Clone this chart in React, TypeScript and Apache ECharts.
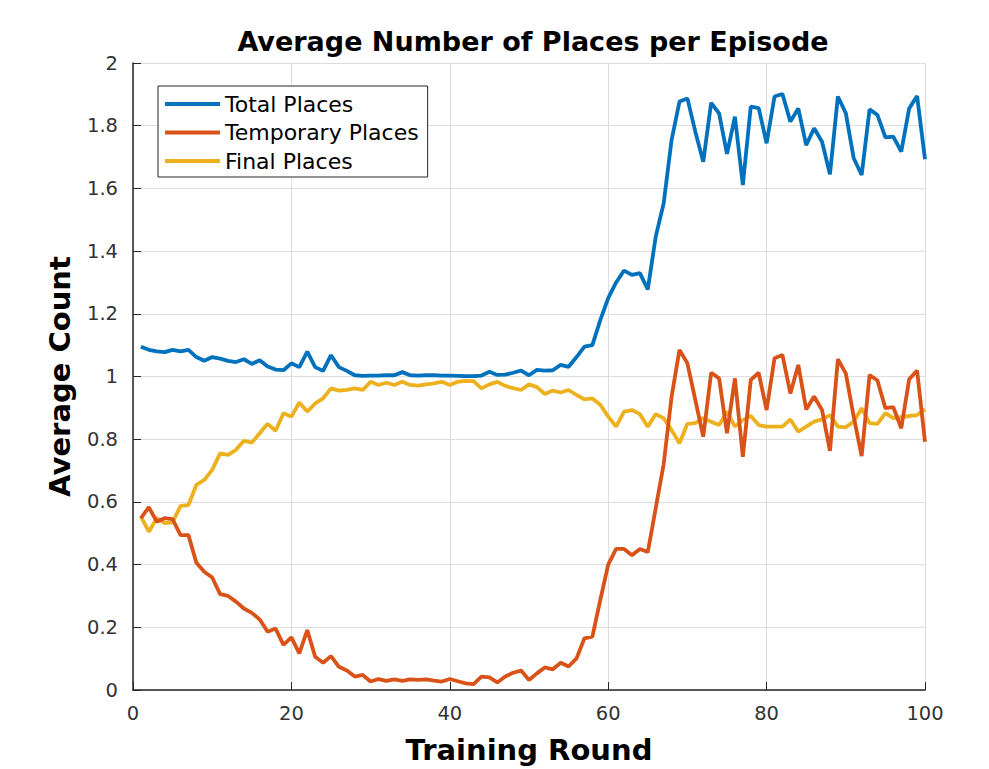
import React, { useEffect, useRef } from "react";
import * as echarts from "echarts";

const seriesNames = ["Total Places", "Temporary Places", "Final Places"];
const seriesColors = ["#0072BD", "#D95319", "#EDB120"];

const totalPlaces = [
  1.095, 1.085, 1.08, 1.078, 1.085, 1.08, 1.085, 1.062, 1.05, 1.062,
  1.057, 1.05, 1.046, 1.055, 1.04, 1.052, 1.032, 1.022, 1.02, 1.042,
  1.03, 1.079, 1.03, 1.018, 1.068, 1.03, 1.018, 1.004, 1.002, 1.003,
  1.003, 1.004, 1.004, 1.014, 1.004, 1.003, 1.004, 1.004, 1.003, 1.003,
  1.002, 1.001, 1.001, 1.003, 1.015, 1.005, 1.006, 1.012, 1.019, 1.004,
  1.021, 1.019, 1.02, 1.037, 1.031, 1.062, 1.095, 1.1, 1.18, 1.25,
  1.3, 1.338, 1.324, 1.33, 1.278, 1.446, 1.552, 1.754, 1.877, 1.887,
  1.781, 1.685, 1.873, 1.839, 1.71, 1.829, 1.611, 1.861, 1.856, 1.744,
  1.893, 1.901, 1.813, 1.855, 1.738, 1.792, 1.749, 1.645, 1.893, 1.84,
  1.696, 1.643, 1.852, 1.834, 1.763, 1.765, 1.717, 1.855, 1.895, 1.693,
];

const temporaryPlaces = [
  0.548, 0.583, 0.537, 0.548, 0.545, 0.494, 0.494, 0.406, 0.377, 0.359,
  0.306, 0.3, 0.282, 0.26, 0.246, 0.225, 0.186, 0.196, 0.144, 0.168,
  0.117, 0.191, 0.106, 0.087, 0.108, 0.074, 0.062, 0.043, 0.048, 0.027,
  0.035, 0.029, 0.034, 0.029, 0.034, 0.032, 0.034, 0.03, 0.027, 0.035,
  0.028, 0.021, 0.019, 0.043, 0.04, 0.024, 0.043, 0.055, 0.062, 0.032,
  0.053, 0.072, 0.066, 0.087, 0.075, 0.101, 0.165, 0.17, 0.287, 0.4,
  0.45, 0.45, 0.43, 0.45, 0.44, 0.58, 0.72, 0.935, 1.085, 1.042,
  0.925, 0.808, 1.012, 0.994, 0.819, 0.994, 0.744, 0.989, 1.012, 0.893,
  1.058, 1.069, 0.946, 1.037, 0.895, 0.936, 0.893, 0.763, 1.055, 1.01,
  0.872, 0.746, 1.005, 0.987, 0.899, 0.902, 0.835, 0.991, 1.019, 0.792,
];

const finalPlaces = [
  0.553, 0.505, 0.548, 0.532, 0.535, 0.587, 0.59, 0.654, 0.67, 0.702,
  0.755, 0.75, 0.766, 0.795, 0.789, 0.819, 0.849, 0.827, 0.883, 0.872,
  0.917, 0.888, 0.914, 0.93, 0.962, 0.955, 0.957, 0.962, 0.957, 0.983,
  0.973, 0.98, 0.973, 0.983, 0.973, 0.971, 0.975, 0.978, 0.983, 0.973,
  0.983, 0.986, 0.985, 0.962, 0.975, 0.983, 0.97, 0.963, 0.957, 0.975,
  0.966, 0.944, 0.955, 0.949, 0.957, 0.941, 0.927, 0.93, 0.91, 0.872,
  0.84, 0.888, 0.893, 0.88, 0.84, 0.88, 0.867, 0.829, 0.787, 0.849,
  0.851, 0.867, 0.856, 0.845, 0.888, 0.84, 0.861, 0.874, 0.845, 0.84,
  0.84, 0.84, 0.863, 0.824, 0.84, 0.856, 0.863, 0.877, 0.84, 0.838,
  0.856, 0.899, 0.851, 0.849, 0.883, 0.867, 0.87, 0.874, 0.877, 0.895,
];

const allSeries = [totalPlaces, temporaryPlaces, finalPlaces];

const FONT = "DejaVu Sans";

export default function App() {
  const ref = useRef<HTMLDivElement>(null);

  useEffect(() => {
    if (!ref.current) return;
    const chart = echarts.init(ref.current, null, { renderer: "svg" });
    const axisColor = "#262626";
    const gridColor = "#dedede";
    chart.setOption({
      animation: false,
      backgroundColor: "#ffffff",
      title: {
        text: "Average Number of Places per Episode",
        left: 528,
        textAlign: "center",
        top: 23,
        textStyle: { fontFamily: FONT, fontSize: 27, fontWeight: "bold", color: "#000" },
      },
      legend: {
        data: seriesNames,
        orient: "vertical",
        left: 158,
        top: 86,
        icon: "rect",
        itemWidth: 55,
        itemHeight: 4,
        itemGap: 4.5,
        padding: [6, 9, 4, 7],
        backgroundColor: "#ffffff",
        borderColor: axisColor,
        borderWidth: 1,
        borderRadius: 0,
        textStyle: { fontFamily: FONT, fontSize: 22, color: "#000", lineHeight: 24 },
      },
      grid: { left: 133, top: 63, width: 792, height: 627, containLabel: false },
      xAxis: {
        type: "value",
        min: 0,
        max: 100,
        interval: 20,
        name: "Training Round",
        nameLocation: "middle",
        nameGap: 45,
        nameTextStyle: { fontFamily: FONT, fontSize: 29, fontWeight: "bold", color: "#000" },
        axisLine: { show: true, lineStyle: { color: axisColor, width: 1.5 } },
        axisTick: { show: true, inside: true, length: 8, lineStyle: { color: axisColor } },
        axisLabel: { fontFamily: FONT, fontSize: 19.5, color: "#333", margin: 13 },
        splitLine: { show: true, lineStyle: { color: gridColor, width: 1 } },
      },
      yAxis: {
        type: "value",
        min: 0,
        max: 2,
        interval: 0.2,
        name: "Average Count",
        nameLocation: "middle",
        nameRotate: 90,
        nameGap: 59,
        nameTextStyle: { fontFamily: FONT, fontSize: 29, fontWeight: "bold", color: "#000" },
        axisLine: { show: true, lineStyle: { color: axisColor, width: 1.5 } },
        axisTick: { show: true, inside: true, length: 8, lineStyle: { color: axisColor } },
        axisLabel: {
          fontFamily: FONT,
          fontSize: 19.5,
          color: "#333",
          margin: 15,
          formatter: (v: number) => String(Math.round(v * 10) / 10),
        },
        splitLine: { show: true, lineStyle: { color: gridColor, width: 1 } },
      },
      series: allSeries.map((vals, si) => ({
        name: seriesNames[si],
        type: "line",
        data: vals.map((v, i) => [i + 1, v]),
        showSymbol: false,
        symbol: "none",
        color: seriesColors[si],
        lineStyle: { color: seriesColors[si], width: 3.8 },
        z: 3 - si,
      })),
    });
    return () => chart.dispose();
  }, []);

  return (
    <div
      ref={ref}
      style={{ position: "fixed", left: 0, top: 0, width: 989, height: 769, background: "#fff" }}
    />
  );
}
